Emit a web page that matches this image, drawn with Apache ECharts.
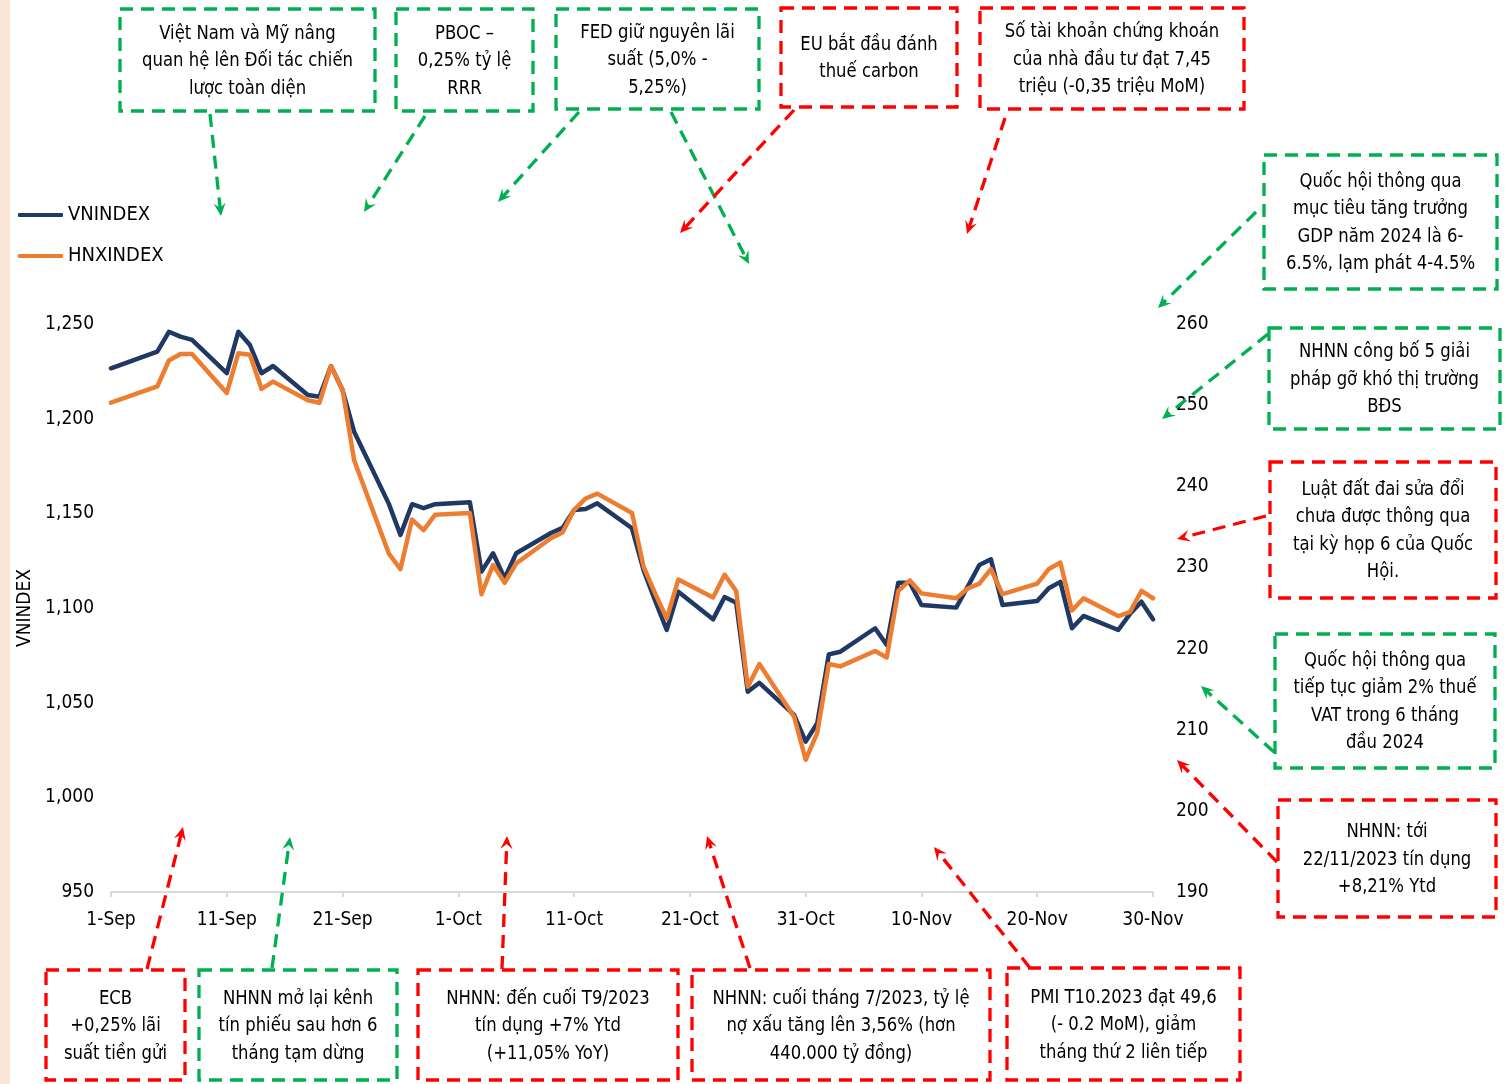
<!DOCTYPE html>
<html>
<head>
<meta charset="utf-8">
<title>VNINDEX &amp; HNXINDEX</title>
<script src="https://cdn.jsdelivr.net/npm/echarts@6/dist/echarts.min.js"></script>
<style>
  html, body { margin: 0; padding: 0; background: #ffffff; }
  #chart { width: 1509px; height: 1084px; }
</style>
</head>
<body>
<div id="chart"></div>
<script>
// Trading days, Sep - Nov 2023
const dates = [
  '2023-09-01','2023-09-05','2023-09-06','2023-09-07','2023-09-08',
  '2023-09-11','2023-09-12','2023-09-13','2023-09-14','2023-09-15',
  '2023-09-18','2023-09-19','2023-09-20','2023-09-21','2023-09-22',
  '2023-09-25','2023-09-26','2023-09-27','2023-09-28','2023-09-29',
  '2023-10-02','2023-10-03','2023-10-04','2023-10-05','2023-10-06',
  '2023-10-09','2023-10-10','2023-10-11','2023-10-12','2023-10-13',
  '2023-10-16','2023-10-17','2023-10-18','2023-10-19','2023-10-20',
  '2023-10-23','2023-10-24','2023-10-25','2023-10-26','2023-10-27',
  '2023-10-30','2023-10-31','2023-11-01','2023-11-02','2023-11-03',
  '2023-11-06','2023-11-07','2023-11-08','2023-11-09','2023-11-10',
  '2023-11-13','2023-11-14','2023-11-15','2023-11-16','2023-11-17',
  '2023-11-20','2023-11-21','2023-11-22','2023-11-23','2023-11-24',
  '2023-11-27','2023-11-28','2023-11-29','2023-11-30'
];

const vnindex = [
  1226.6, 1235.4, 1245.9, 1243.3, 1241.6,
  1224.0, 1245.9, 1238.9, 1224.0, 1227.8,
  1212.5, 1211.6, 1227.8, 1215.1, 1193.1,
  1155.0, 1138.6, 1154.8, 1152.7, 1154.8,
  1155.8, 1119.2, 1128.9, 1115.7, 1128.9,
  1139.6, 1142.3, 1151.8, 1152.3, 1155.3,
  1142.1, 1120.0, 1103.8, 1088.4, 1108.6,
  1094.0, 1105.8, 1102.8, 1055.8, 1060.5,
  1043.5, 1029.4, 1039.1, 1075.5, 1076.9,
  1089.3, 1080.5, 1113.4, 1113.4, 1101.6,
  1100.2, 1111.3, 1122.7, 1125.7, 1101.6,
  1103.7, 1110.4, 1113.8, 1089.3, 1095.8,
  1088.4, 1096.8, 1103.3, 1094.0
];

const hnxindex = [
  250.3, 252.3, 255.5, 256.3, 256.3,
  251.5, 256.4, 256.2, 252.0, 252.9,
  250.6, 250.3, 254.8, 251.9, 243.2,
  231.7, 229.8, 235.9, 234.6, 236.5,
  236.7, 226.7, 230.3, 228.1, 230.5,
  233.6, 234.3, 237.1, 238.5, 239.1,
  236.7, 230.1, 226.8, 223.7, 228.5,
  226.3, 229.1, 227.1, 215.3, 218.1,
  211.6, 206.3, 209.6, 218.1, 217.8,
  219.7, 218.9, 227.1, 228.4, 226.8,
  226.2, 227.4, 228.0, 229.8, 226.7,
  228.0, 229.8, 230.6, 224.7, 226.2,
  224.0, 224.5, 227.1, 226.2
];

const tickLabels = ['1-Sep','11-Sep','21-Sep','1-Oct','11-Oct','21-Oct','31-Oct','10-Nov','20-Nov','30-Nov'];

// Event notes around the chart
const GREEN = '#00B050';
const RED = '#FF0000';
const notes = [
  { box: [120, 9, 255, 102],   color: GREEN, text: 'Việt Nam và Mỹ nâng\nquan hệ lên Đối tác chiến\nlược toàn diện', arrow: [210, 114, 221, 216] },
  { box: [396, 9, 137, 102],   color: GREEN, text: 'PBOC –\n0,25% tỷ lệ\nRRR', arrow: [425, 116, 364, 212] },
  { box: [556, 9, 203, 100],   color: GREEN, text: 'FED giữ nguyên lãi\nsuất (5,0% -\n5,25%)', arrow: [579, 112, 498, 202] },
  { box: [556, 9, 203, 100],   color: GREEN, text: '', arrow: [671, 112, 749, 264] },
  { box: [781, 8, 176, 99],    color: RED,   text: 'EU bắt đầu đánh\nthuế carbon', arrow: [794, 110, 680, 233] },
  { box: [980, 8, 264, 101],   color: RED,   text: 'Số tài khoản chứng khoán\ncủa nhà đầu tư đạt 7,45\ntriệu (-0,35 triệu MoM)', arrow: [1005, 118, 967, 234] },
  { box: [1264, 155, 233, 134], color: GREEN, text: 'Quốc hội thông qua\nmục tiêu tăng trưởng\nGDP năm 2024 là 6-\n6.5%, lạm phát 4-4.5%', arrow: [1256, 212, 1158, 308] },
  { box: [1269, 328, 231, 101], color: GREEN, text: 'NHNN công bố 5 giải\npháp gỡ khó thị trường\nBĐS', arrow: [1268, 334, 1162, 419] },
  { box: [1270, 462, 226, 136], color: RED,   text: 'Luật đất đai sửa đổi\nchưa được thông qua\ntại kỳ họp 6 của Quốc\nHội.', arrow: [1266, 516, 1177, 539] },
  { box: [1275, 634, 220, 134], color: GREEN, text: 'Quốc hội thông qua\ntiếp tục giảm 2% thuế\nVAT trong 6 tháng\nđầu 2024', arrow: [1274, 752, 1201, 686] },
  { box: [1278, 800, 218, 117], color: RED,   text: 'NHNN: tới\n22/11/2023 tín dụng\n+8,21% Ytd', arrow: [1277, 862, 1177, 760] },
  { box: [46, 970, 139, 110],  color: RED,   text: 'ECB\n+0,25% lãi\nsuất tiền gửi', arrow: [147, 969, 183, 827] },
  { box: [199, 970, 198, 110], color: GREEN, text: 'NHNN mở lại kênh\ntín phiếu sau hơn 6\ntháng tạm dừng', arrow: [272, 968, 290, 837] },
  { box: [418, 970, 260, 110], color: RED,   text: 'NHNN: đến cuối T9/2023\ntín dụng +7% Ytd\n(+11,05% YoY)', arrow: [502, 969, 507, 836] },
  { box: [692, 970, 298, 110], color: RED,   text: 'NHNN: cuối tháng 7/2023, tỷ lệ\nnợ xấu tăng lên 3,56% (hơn\n440.000 tỷ đồng)', arrow: [750, 968, 707, 836] },
  { box: [1007, 968, 233, 112], color: RED,  text: 'PMI T10.2023 đạt 49,6\n(- 0.2 MoM), giảm\ntháng thứ 2 liên tiếp', arrow: [1030, 968, 934, 847] }
];

const FONT = '"DejaVu Sans Condensed", "DejaVu Sans", sans-serif';
const DAY = 86400000;
const START = Date.UTC(2023, 8, 1);
function dayOffset(s) {
  const p = s.split('-').map(Number);
  return (Date.UTC(p[0], p[1] - 1, p[2]) - START) / DAY;
}

const vnSeries = dates.map((d, i) => [dayOffset(d), vnindex[i]]);
const hnxSeries = dates.map((d, i) => [dayOffset(d), hnxindex[i]]);

// Dashed boxes, captions and arrows
const graphics = [
  { type: 'rect', shape: { x: 0, y: 0, width: 10, height: 1084 }, style: { fill: '#FBE5D6' }, z: 0 }
];
const drawnBoxes = new Set();
notes.forEach(n => {
  const [bx, by, bw, bh] = n.box;
  const key = n.box.join(',');
  if (!drawnBoxes.has(key)) {
    drawnBoxes.add(key);
    graphics.push({
      type: 'rect', z: 10,
      shape: { x: bx, y: by, width: bw, height: bh },
      style: { fill: 'none', stroke: n.color, lineWidth: 3.3, lineDash: [13, 8] }
    });
  }
  if (n.text) {
    graphics.push({
      type: 'text', z: 11,
      x: bx + bw / 2, y: by + bh / 2 + 1,
      scaleX: 0.915,
      style: {
        text: n.text, align: 'center', verticalAlign: 'middle',
        font: '20px ' + FONT, lineHeight: 27.5, fill: '#000000'
      }
    });
  }
  const [x1, y1, x2, y2] = n.arrow;
  const dx = x2 - x1, dy = y2 - y1;
  const len = Math.sqrt(dx * dx + dy * dy);
  const ux = dx / len, uy = dy / len;
  const hl = 13, hw = 6;
  const bxp = x2 - ux * hl, byp = y2 - uy * hl;
  graphics.push({
    type: 'line', z: 10,
    shape: { x1: x1, y1: y1, x2: x2 - ux * 6, y2: y2 - uy * 6 },
    style: { stroke: n.color, lineWidth: 3.3, lineDash: [13, 8] }
  });
  graphics.push({
    type: 'polygon', z: 10,
    shape: { points: [[x2, y2], [bxp - uy * hw, byp + ux * hw], [x2 - ux * 8, y2 - uy * 8], [bxp + uy * hw, byp - ux * hw]] },
    style: { fill: n.color }
  });
});

const chart = echarts.init(document.getElementById('chart'), null, { renderer: 'canvas' });
chart.setOption({
  animation: false,
  backgroundColor: '#ffffff',
  textStyle: { fontFamily: FONT },
  grid: { left: 111, right: 356, top: 324, bottom: 192, containLabel: false },
  legend: {
    orient: 'vertical', left: 18, top: 205, padding: 0,
    icon: 'roundRect', itemWidth: 45, itemHeight: 4, itemGap: 21,
    textStyle: { fontFamily: FONT, fontSize: 20, color: '#000' },
    data: ['VNINDEX', 'HNXINDEX']
  },
  xAxis: {
    type: 'value', min: 0, max: 90, interval: 10,
    axisLine: { show: true, lineStyle: { color: '#D9D9D9', width: 2 } },
    axisTick: { show: true, length: 5, lineStyle: { color: '#D9D9D9', width: 2 } },
    splitLine: { show: false },
    axisLabel: {
      margin: 19, fontFamily: FONT, fontSize: 19, color: '#000',
      formatter: v => tickLabels[Math.round(v / 10)] || ''
    }
  },
  yAxis: [
    {
      type: 'value', min: 950, max: 1250, interval: 50,
      name: 'VNINDEX', nameLocation: 'middle', nameGap: 71, nameRotate: 90,
      nameTextStyle: { fontFamily: FONT, fontSize: 19, color: '#000' },
      axisLine: { show: false }, axisTick: { show: false }, splitLine: { show: false },
      axisLabel: {
        margin: 17, fontFamily: FONT, fontSize: 19, color: '#000',
        formatter: v => v.toLocaleString('en-US')
      }
    },
    {
      type: 'value', min: 190, max: 260, interval: 10, position: 'right',
      axisLine: { show: false }, axisTick: { show: false }, splitLine: { show: false },
      axisLabel: { margin: 23, fontFamily: FONT, fontSize: 19, color: '#000' }
    }
  ],
  series: [
    {
      name: 'VNINDEX', type: 'line', yAxisIndex: 0, data: vnSeries,
      symbol: 'none', smooth: false, z: 3,
      itemStyle: { color: '#203864' },
      lineStyle: { color: '#203864', width: 4.5, join: 'round', cap: 'round' }
    },
    {
      name: 'HNXINDEX', type: 'line', yAxisIndex: 1, data: hnxSeries,
      symbol: 'none', smooth: false, z: 4,
      itemStyle: { color: '#ED7D31' },
      lineStyle: { color: '#ED7D31', width: 4.5, join: 'round', cap: 'round' }
    }
  ],
  graphic: { elements: graphics }
});
</script>
</body>
</html>
